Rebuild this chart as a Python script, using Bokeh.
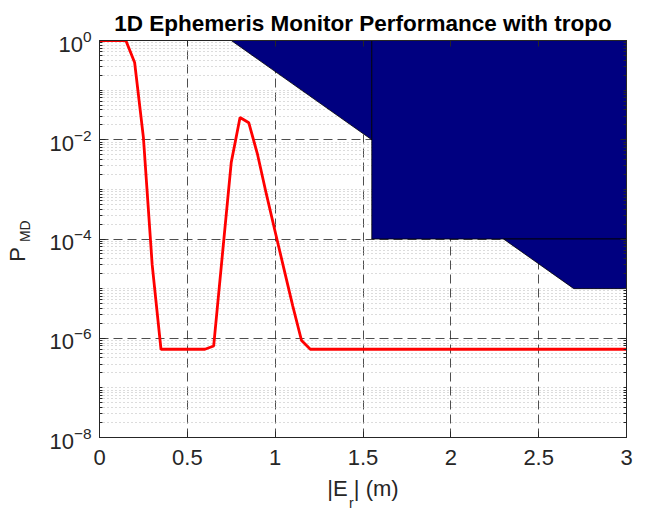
import math
from bokeh.plotting import figure
from bokeh.models import FixedTicker, LinearAxis, LogAxis, CustomJSTickFormatter
from bokeh.embed import file_html
from bokeh.resources import INLINE

# ---- data ----
err_x = [0.0, 0.05, 0.1, 0.15, 0.2, 0.25, 0.3, 0.35, 0.4, 0.5, 0.6, 0.65, 0.7, 0.75,
         0.8, 0.85, 0.9, 0.95, 1.0, 1.05, 1.1, 1.15, 1.2, 2.0, 3.0]
pmd = [1.0, 1.0, 1.0, 1.0, 0.36, 1.1e-2, 3e-5, 6e-7, 6e-7, 6e-7, 6e-7, 7e-7, 5e-5, 3.5e-3,
       2.8e-2, 2.2e-2, 5e-3, 8e-4, 1.4e-4, 2.5e-5, 4.5e-6, 9e-7, 6e-7, 6e-7, 6e-7]

regA_x = [0.75, 1.55, 1.55]
regA_y = [1.0, 1e-2, 1.0]
regB_x = [1.55, 1.55, 3.0, 3.0]
regB_y = [1.0, 1e-4, 1e-4, 1.0]
regC_x = [2.3, 2.7, 3.0, 3.0]
regC_y = [1e-4, 1e-5, 1e-5, 1e-4]

x_ticks = [0, 0.5, 1, 1.5, 2, 2.5, 3]
y_ticks = [1e-8, 1e-6, 1e-4, 1e-2, 1.0]
y_minor = [m * 10.0 ** k for k in range(-8, 0) for m in range(1, 10) if not (m == 1 and k % 2 == 0)]

TXT = "#262626"
FONT = "Liberation Sans"
NB = "\u00a0"  # non-breaking space used to shift label pieces off-centre
W, H = 648, 513
BL, BR, BT, BB = 99, 22, 40, 76

p = figure(width=W, height=H, x_range=(0, 3), y_range=(1e-8, 1), y_axis_type="log",
           output_backend="svg", toolbar_location=None,
           min_border_left=BL, min_border_right=BR, min_border_top=BT, min_border_bottom=BB)
p.background_fill_color = "white"
p.border_fill_color = "white"
p.outline_line_color = TXT

p.title.text = "1D Ephemeris Monitor Performance with tropo"
p.title.align = "center"
p.title.text_font = FONT
p.title.text_font_size = "22.5px"
p.title.text_font_style = "bold"
p.title.text_color = "black"
p.title.offset = 3

yt = FixedTicker(ticks=y_ticks, minor_ticks=y_minor)
xt = FixedTicker(ticks=x_ticks)

for ax in p.xaxis:
    ax.ticker = xt
for ax in p.yaxis:
    ax.ticker = yt

def style(ax, minor=True):
    ax.axis_line_color = TXT
    ax.major_tick_line_color = TXT
    ax.major_tick_in = 6
    ax.major_tick_out = 0
    if minor:
        ax.minor_tick_line_color = TXT
        ax.minor_tick_in = 3
        ax.minor_tick_out = 0
    else:
        ax.minor_tick_line_color = None
    ax.major_label_text_font = FONT
    ax.major_label_text_font_size = "22px"
    ax.major_label_text_color = TXT
    ax.axis_label_text_font = FONT
    ax.axis_label_text_font_style = "normal"
    ax.axis_label_text_color = TXT

style(p.xaxis[0], minor=False)
style(p.yaxis[0])
p.xaxis[0].major_label_standoff = 12
p.yaxis[0].major_label_standoff = 8

# x axis label "|E_r| (m)": main part on the bottom axis, subscript on a label-only axis
p.xaxis[0].axis_label = "|E | (m)"
p.xaxis[0].axis_label_text_font_size = "22px"
p.xaxis[0].axis_label_standoff = 8

def label_axis(cls, text, size, standoff):
    ax = cls(ticker=FixedTicker(ticks=[]), axis_label=text)
    ax.axis_line_color = None
    ax.major_tick_line_color = None
    ax.minor_tick_line_color = None
    ax.major_tick_out = 0
    ax.major_tick_in = 0
    ax.major_label_standoff = 0
    ax.axis_label_text_font = FONT
    ax.axis_label_text_font_style = "normal"
    ax.axis_label_text_font_size = size
    ax.axis_label_text_color = TXT
    ax.axis_label_standoff = standoff
    return ax

p.add_layout(label_axis(LinearAxis, "r" + NB * 6, "14px", -9), "below")
p.add_layout(label_axis(LogAxis, NB * 4 + "MD", "14px", 14), "left")
p.add_layout(label_axis(LogAxis, "P" + NB * 5, "22px", -16), "left")

empty = CustomJSTickFormatter(code="return ''")
right = LogAxis(ticker=yt, formatter=empty)
style(right)
right.major_label_text_font_size = "1px"
right.major_label_standoff = 0
top = LinearAxis(ticker=xt, formatter=empty)
style(top, minor=False)
top.major_label_text_font_size = "1px"
top.major_label_standoff = 0
p.add_layout(right, "right")
p.add_layout(top, "above")

# grids
p.xgrid.ticker = xt
p.ygrid.ticker = yt
for g in (p.xgrid[0], p.ygrid[0]):
    g.grid_line_color = "#222222"
    g.grid_line_alpha = 0.8
    g.grid_line_dash = "9 5"
    g.grid_line_width = 1
p.ygrid.minor_grid_line_color = "#b8b8b8"
p.ygrid.minor_grid_line_dash = "1 3"
p.ygrid.minor_grid_line_width = 1

# regions
for rx, ry in ((regA_x, regA_y), (regB_x, regB_y), (regC_x, regC_y)):
    p.patch(rx, ry, fill_color="#000080", line_color="black", line_width=0.8)

p.line(err_x, pmd, line_color="#FF0000", line_width=2.8)

open("out.html", "w").write(file_html(p, INLINE))
